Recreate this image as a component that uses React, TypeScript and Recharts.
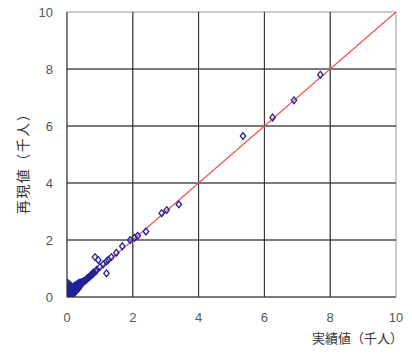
import React from "react";
import {
  ScatterChart, Scatter, XAxis, YAxis, CartesianGrid, ReferenceLine,
} from "recharts";

// 実績値 (千人) vs 再現値 (千人)
const actual = [
  7.7, 6.9, 6.25, 5.35, 3.4, 3.03, 2.88, 2.4, 2.15, 2.05, 1.92, 1.68, 1.5, 1.35,
  1.25, 1.2, 1.1, 1.0, 0.95, 0.85, 1.2, 0.9, 0.8, 0.75, 0.7, 0.65, 0.6, 0.55,
  0.5, 0.45, 0.4, 0.35, 0.3, 0.28, 0.25, 0.22, 0.2, 0.18, 0.15, 0.12, 0.1, 0.08,
  0.05, 0.03, 0.02, 0.01, 0.05, 0.08, 0.03, 0.1, 0.15, 0.2, 0.25, 0.3, 0.12,
  0.06, 0.18, 0.04, 0.1, 0.15, 0.2, 0.35, 0.4, 0.05, 0.0, 0.02, 0.07, 0.02, 0.06,
  0.33, 0.38, 0.42, 0.27, 0.14, 0.09, 0.01, 0.0, 0.04,
  0.48, 0.52, 0.58, 0.62, 0.68, 0.72, 0.78, 0.82, 0.88, 0.36, 0.31, 0.26, 0.21,
  0.17, 0.13, 0.11, 0.07, 0.24, 0.29, 0.19, 0.16, 0.23, 0.32, 0.37, 0.43, 0.09,
  0.12, 0.03, 0.05, 0.14,
];
const reproduced = [
  7.8, 6.9, 6.3, 5.65, 3.25, 3.05, 2.94, 2.3, 2.15, 2.08, 2.0, 1.78, 1.55, 1.4,
  1.3, 1.25, 1.15, 1.05, 1.3, 1.4, 0.83, 0.95, 0.85, 0.78, 0.72, 0.68, 0.63, 0.58,
  0.55, 0.5, 0.45, 0.42, 0.38, 0.33, 0.3, 0.28, 0.25, 0.22, 0.2, 0.18, 0.15, 0.12,
  0.1, 0.06, 0.03, 0.01, 0.35, 0.4, 0.2, 0.3, 0.1, 0.12, 0.18, 0.25, 0.05,
  0.02, 0.08, 0.15, 0.08, 0.28, 0.35, 0.3, 0.38, 0.05, 0.1, 0.25, 0.18, 0.5, 0.45,
  0.36, 0.4, 0.47, 0.22, 0.04, 0.02, 0.0, 0.04, 0.0,
  0.52, 0.55, 0.6, 0.66, 0.7, 0.76, 0.8, 0.86, 0.9, 0.44, 0.34, 0.36, 0.31,
  0.27, 0.24, 0.33, 0.28, 0.4, 0.43, 0.15, 0.32, 0.38, 0.46, 0.5, 0.52, 0.22,
  0.4, 0.12, 0.44, 0.14,
];
const TICKS = [0, 2, 4, 6, 8, 10];
const GRID = [2, 4, 6, 8];

const points = actual.map((x, i) => ({ x, y: reproduced[i] }));

const NAVY = "#22229a";
const GRID_COLOR = "#2a2a2a";

const Diamond = (props: any) => {
  const { cx, cy } = props;
  if (cx == null || cy == null) return null;
  return (
    <polygon
      points={`${cx},${cy - 3.4} ${cx + 2.7},${cy} ${cx},${cy + 3.4} ${cx - 2.7},${cy}`}
      fill="none"
      stroke={NAVY}
      strokeWidth={1.3}
    />
  );
};

const tickStyle = { fontSize: 13, fill: "#555", fontFamily: "'Liberation Sans', Arial, sans-serif" };
const labelFont = "'Noto Sans CJK JP', sans-serif";

export default function App() {
  return (
    <div style={{ position: "absolute", left: 0, top: 0, background: "#fff" }}>
      <ScatterChart width={412} height={354} margin={{ top: 12, right: 16, left: 0, bottom: 0 }}>
        <CartesianGrid stroke="#999" horizontal vertical />
        <XAxis
          type="number" dataKey="x" domain={[0, 10]} ticks={TICKS} allowDataOverflow
          height={57} tickSize={0} tickMargin={16} tick={tickStyle}
          axisLine={{ stroke: GRID_COLOR }}
          label={{
            content: () => (
              <text x={403} y={343} textAnchor="end" fontSize={13} fill="#333" fontFamily={labelFont}>
                実績値（千人）
              </text>
            ),
          }}
        />
        <YAxis
          type="number" dataKey="y" domain={[0, 10]} ticks={TICKS} allowDataOverflow
          width={67} tickSize={0} tickMargin={14} tick={tickStyle}
          axisLine={{ stroke: GRID_COLOR }}
          label={{
            content: () => (
              <text
                x={22} y={160} textAnchor="middle" dominantBaseline="central"
                transform="rotate(-90 22 160)" fontSize={14} letterSpacing={1.5}
                fill="#333" fontFamily={labelFont}
              >
                再現値（千人）
              </text>
            ),
          }}
        />
        {GRID.map((v) => (
          <ReferenceLine key={`gx${v}`} x={v} stroke={GRID_COLOR} strokeWidth={1} />
        ))}
        {GRID.map((v) => (
          <ReferenceLine key={`gy${v}`} y={v} stroke={GRID_COLOR} strokeWidth={1} />
        ))}
        <ReferenceLine
          segment={[{ x: 0, y: 0 }, { x: 10, y: 10 }]}
          stroke="#ee5555" strokeWidth={1.2}
        />
        <Scatter data={points} shape={Diamond} isAnimationActive={false} />
      </ScatterChart>
    </div>
  );
}
